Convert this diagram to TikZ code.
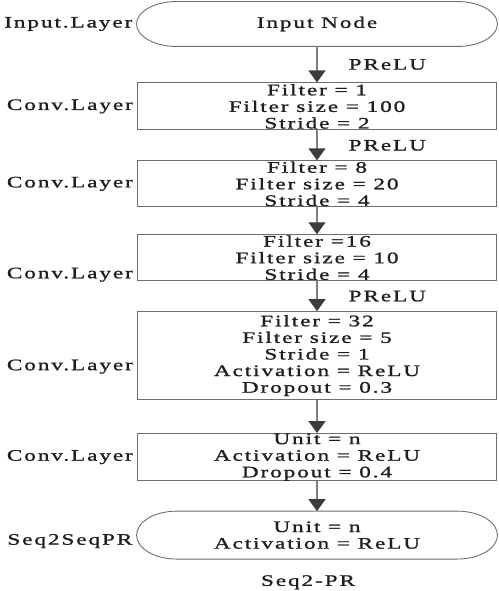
\documentclass[tikz,border=0pt]{standalone}
\usepackage{fontspec}
\setmainfont[FakeStretch=1.45,LetterSpace=12,FakeBold=1.2]{Liberation Serif}
\usetikzlibrary{positioning,arrows.meta,calc}
\definecolor{boxedge}{HTML}{6E6E6E}
\definecolor{arrline}{HTML}{808080}
\definecolor{arrhead}{HTML}{3C3C3C}
\definecolor{ink}{HTML}{1E1E1E}
\tikzset{
  layer/.style={draw=boxedge, line width=0.9pt, text=ink, align=center, font=\fontsize{16}{16.6}\selectfont, minimum width=359pt, inner sep=0pt},
  term/.style={layer, draw=none, minimum width=360pt},
  lbl/.style={text=ink, font=\fontsize{16}{16.6}\selectfont, inner sep=0pt},
  act/.style={lbl, right=31pt},
  arr/.style={-{Triangle[length=12pt,width=17pt,color=arrhead]}, line width=1.3pt, arrline}}
% stadium outline with elliptic ends round a term node
\newcommand\stadium[1]{%
  \draw[boxedge, line width=0.9pt] let \p1=($(#1.north)-(#1.south)$) in
    ([xshift=40pt]#1.north west) -- ([xshift=-40pt]#1.north east)
    arc[start angle=90, end angle=-90, x radius=40pt, y radius=0.5*\y1]
    -- ([xshift=40pt]#1.south west)
    arc[start angle=270, end angle=90, x radius=40pt, y radius=0.5*\y1] -- cycle;}

\begin{document}
\begin{tikzpicture}[x=1pt, y=-1pt]
\useasboundingbox (0,0) rectangle (498,591);
\node[term, minimum height=44pt] (inode) at (317,24) {Input Node};
\node[layer, minimum height=47pt, below=36pt of inode] (conv1) {Filter = 1\\Filter size = 100\\Stride = 2};
\node[layer, minimum height=46pt, below=30pt of conv1] (conv2) {Filter = 8\\Filter size = 20\\Stride = 4};
\node[layer, minimum height=46pt, below=27pt of conv2] (conv3) {Filter =16\\Filter size = 10\\Stride = 4};
\node[layer, minimum height=88pt, below=30pt of conv3] (conv4) {Filter = 32\\Filter size = 5\\Stride = 1\\Activation = ReLU\\Dropout = 0.3};
\node[layer, minimum height=46pt, below=33pt of conv4] (conv5) {Unit = n\\Activation = ReLU\\Dropout = 0.4};
\node[term, minimum height=47pt, below=30pt of conv5] (onode) {Unit = n\\Activation = ReLU};
\stadium{inode} \stadium{onode}
\node[lbl, below=16pt of onode, xshift=-9pt] (title) {Seq2-PR};

\node[lbl, left=4pt of inode] (linode) {Input.Layer};
\node[lbl, left=4pt of conv1] (lconv1) {Conv.Layer};
\node[lbl, left=4pt of conv2] (lconv2) {Conv.Layer};
\node[lbl, left=4pt of conv3, yshift=-17pt] (lconv3) {Conv.Layer};
\node[lbl, left=4pt of conv4, yshift=-11pt] (lconv4) {Conv.Layer};
\node[lbl, left=4pt of conv5] (lconv5) {Conv.Layer};
\node[lbl, left=4pt of onode, yshift=-6pt] (lonode) {Seq2SeqPR};

\draw[arr] (inode) -- node[act] {PReLU} (conv1);
\draw[arr] (conv1) -- node[act] {PReLU} (conv2);
\draw[arr] (conv2) -- (conv3);
\draw[arr] (conv3) -- node[act] {PReLU} (conv4);
\draw[arr] (conv4) -- (conv5);
\draw[arr] (conv5) -- (onode);
\end{tikzpicture}
\end{document}
